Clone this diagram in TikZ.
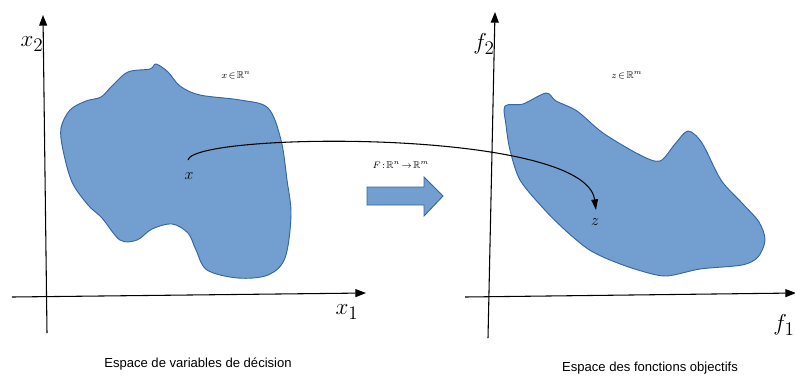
\documentclass[tikz,border=0pt]{standalone}
\usepackage{amssymb}
\usepackage{fontspec}
\setsansfont{Liberation Sans}
\usetikzlibrary{arrows.meta}
\definecolor{blobfill}{HTML}{729FCF}
\definecolor{blobline}{HTML}{3465A4}
\tikzset{
  axis/.style={line width=0.8pt,-{Triangle[length=8pt,width=6pt]}},
  blob/.style={fill=blobfill,draw=blobline,line width=0.7pt},
  axlabel/.style={font=\fontsize{19}{20}\selectfont,inner sep=0pt},
  ptlabel/.style={font=\fontsize{12.5}{13}\selectfont,inner sep=0pt},
  small/.style={font=\fontsize{7.5}{8}\selectfont\sffamily,inner sep=0pt},
  caption/.style={font=\fontsize{9.8}{11}\selectfont\sffamily,inner sep=0pt}
}
\begin{document}
\begin{tikzpicture}[x=0.75pt,y=-0.75pt]
\useasboundingbox (0,0) rectangle (795,376);
% left blob
\draw[blob] plot[smooth cycle,tension=0.55] coordinates {
 (128,72) (150,69) (156,64) (168,72) (180,86) (200,95) (240,100) (268,108)
 (281,140) (287,180) (291,215) (285,258) (268,275) (238,278) (207,270)
 (196,250) (188,233) (172,224) (152,229) (137,240) (120,240) (102,218)
 (88,205) (72,182) (63,150) (61,128) (70,110) (86,101) (101,97) (112,86)};
% right blob
\draw[blob] plot[smooth cycle,tension=0.5] coordinates {
 (505,106) (523,104) (546,93) (556,101) (577,111) (603,133) (640,155)
 (660,161) (675,144) (688,131) (702,143) (721,180) (742,203) (759,222)
 (765,240) (758,257) (742,265) (700,269) (666,276) (638,270) (610,260)
 (588,249) (565,230) (543,208) (520,180) (510,150) (506,125)};
% axes left
\coordinate (l0) at (47,333);
\coordinate (l2) at (43,15);
\coordinate (lh0) at (12,297);
\coordinate (lh1) at (366,293);
\draw[axis] (l0) -- (l2);
\draw[axis] (lh0) -- (lh1);
% axes right
\coordinate (r0) at (488,338);
\coordinate (r2) at (495,12);
\coordinate (rh0) at (465,297);
\coordinate (rh1) at (796,293);
\draw[axis] (r0) -- (r2);
\draw[axis] (rh0) -- (rh1);
% axis labels
\node[axlabel] (x2) at (32,44) {$x_2$};
\node[axlabel] (f2) at (484,44) {$f_2$};
\node[axlabel] (x1) at (347,312) {$x_1$};
\node[axlabel] (f1) at (784,325) {$f_1$};
% point labels
\node[ptlabel] (px) at (189,176) {$x$};
\node[ptlabel] (pz) at (595,222) {$z$};
\coordinate (cs) at (188,160);
\coordinate (ce) at (596,210);
\draw[line width=0.8pt,-{Triangle[length=8pt,width=5pt]}] (cs) .. controls (193,132) and (585,128) .. (ce);
% small labels
\node[small] (dx) at (236,75) {$x\!\in\!\mathbb{R}^n$};
\node[small] (dz) at (627,75) {$z\!\in\!\mathbb{R}^m$};
\node[small] (F) at (401,165) {$F\!:\!\mathbb{R}^n\!\rightarrow\!\mathbb{R}^m$};
% block arrow
\draw[blob] (367,187) -- (424,187) -- (424,177) -- (443,196) -- (424,216) -- (424,205) -- (367,205) -- cycle;
% captions
\node[caption] (c1) at (198,364) {Espace de variables de décision};
\node[caption] (c2) at (650,368) {Espace des fonctions objectifs};
\end{tikzpicture}
\end{document}
